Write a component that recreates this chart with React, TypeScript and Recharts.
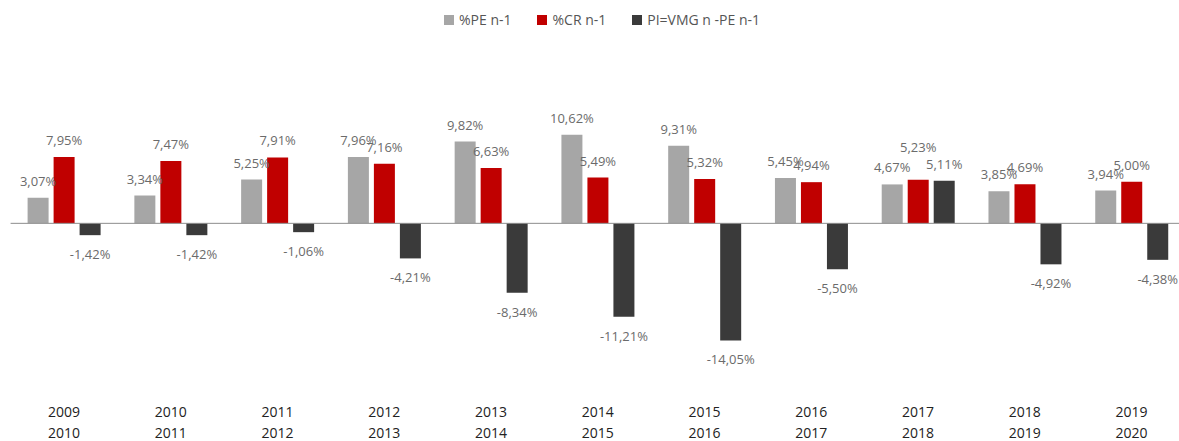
import React from 'react';
import { BarChart, Bar, XAxis, YAxis, ReferenceLine, LabelList } from 'recharts';

const periods = ['2009|2010', '2010|2011', '2011|2012', '2012|2013', '2013|2014', '2014|2015', '2015|2016', '2016|2017', '2017|2018', '2018|2019', '2019|2020'];
const pe = [3.07, 3.34, 5.25, 7.96, 9.82, 10.62, 9.31, 5.45, 4.67, 3.85, 3.94];
const cr = [7.95, 7.47, 7.91, 7.16, 6.63, 5.49, 5.32, 4.94, 5.23, 4.69, 5.0];
const pi = [-1.42, -1.42, -1.06, -4.21, -8.34, -11.21, -14.05, -5.5, 5.11, -4.92, -4.38];

const series = [
  { key: 'pe', name: '%PE n-1', color: '#a6a6a6' },
  { key: 'cr', name: '%CR n-1', color: '#c00000' },
  { key: 'pi', name: 'PI=VMG n -PE n-1', color: '#3a3a3a' },
];

const data = periods.map((p, i) => ({ period: p, pe: pe[i], cr: cr[i], pi: pi[i] }));

const FONT = '"Open Sans", "DejaVu Sans", sans-serif';

const fmt = (v: number) => v.toFixed(2).replace('.', ',') + '%';

// the 2017/2018 red label sits higher in the original so it clears its neighbours
const ValueLabel = (props: any) => {
  const { x, y, width, height, value, index, lift = 0 } = props;
  const top = Math.min(y, y + height);
  const bottom = Math.max(y, y + height);
  const neg = value < 0;
  const extra = lift && index === 8 ? lift : 0;
  return (
    <text
      x={x + width / 2}
      y={neg ? bottom + 24 : top - 12 - extra}
      textAnchor="middle"
      fill="#6b6b6b"
      fontSize={13}
      fontFamily={FONT}
    >
      {fmt(value)}
    </text>
  );
};

const PeriodTick = (props: any) => {
  const { x, y, payload } = props;
  const [a, b] = String(payload.value).split('|');
  return (
    <g>
      <text x={x} y={y} dy={19} textAnchor="middle" fill="#222" fontSize={14} fontFamily={FONT}>{a}</text>
      <text x={x} y={y} dy={40} textAnchor="middle" fill="#222" fontSize={14} fontFamily={FONT}>{b}</text>
    </g>
  );
};

export default function App() {
  return (
    <div style={{ position: 'absolute', top: 0, left: 0, width: 1179, height: 441, overflow: 'hidden', background: '#fff' }}>
      <div
        style={{
          position: 'absolute',
          top: 10,
          left: 0,
          width: 1204,
          display: 'flex',
          justifyContent: 'center',
          gap: 26,
          fontFamily: FONT,
          fontSize: 14,
          color: '#555',
        }}
      >
        {series.map((s) => (
          <div key={s.key} style={{ display: 'flex', alignItems: 'center', gap: 5 }}>
            <span style={{ width: 10, height: 10, background: s.color, display: 'inline-block' }} />
            <span>{s.name}</span>
          </div>
        ))}
      </div>
      <BarChart
        width={1187}
        height={441}
        data={data}
        margin={{ top: 40, right: 2, left: 10.6, bottom: 0 }}
        barGap={5}
        barSize={21}
      >
        <XAxis dataKey="period" axisLine={false} tickLine={false} height={51} tick={<PeriodTick />} interval={0} />
        <YAxis hide domain={[-20, 22]} />
        <ReferenceLine y={0} stroke="#8c8c8c" strokeWidth={1} />
        {series.map((s) => (
          <Bar key={s.key} dataKey={s.key} name={s.name} fill={s.color} isAnimationActive={false}>
            <LabelList dataKey={s.key} content={<ValueLabel lift={s.key === 'cr' ? 16 : 0} />} />
          </Bar>
        ))}
      </BarChart>
    </div>
  );
}
